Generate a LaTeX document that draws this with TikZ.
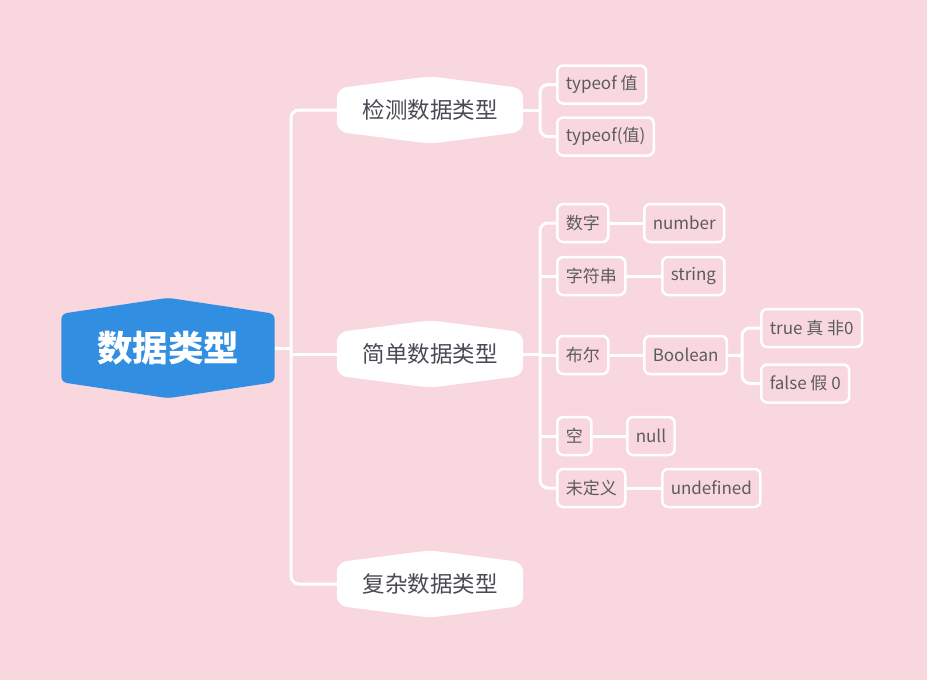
\documentclass[tikz,border=0pt]{standalone}
\usepackage{fontspec}
\setmainfont{Noto Sans CJK SC}
\usetikzlibrary{backgrounds}
\definecolor{bgpink}{HTML}{F8D7DF}
\definecolor{rootblue}{HTML}{318EE0}
\definecolor{maintext}{HTML}{4A4A55}
\definecolor{leaftext}{HTML}{5C5C5C}

\begin{document}
\begin{tikzpicture}[x=1pt,y=-1pt]
\tikzstyle{root} = [text=white, font=\fontsize{35.5}{40}\selectfont\bfseries, minimum width=213, minimum height=100, inner sep=0]
\tikzstyle{branch} = [text=maintext, font=\fontsize{22.5}{26}\selectfont, minimum width=186, minimum height=67, inner sep=0]
\tikzstyle{leaf} = [draw=white, line width=2.5pt, rounded corners=6pt, text=leaftext, font=\fontsize{17}{20}\selectfont, minimum height=38, inner xsep=8.5, anchor=west]
\tikzstyle{link} = [draw=white, line width=3pt, rounded corners=8pt]
\useasboundingbox (0,0) rectangle (927,680);

\node [root] (root) at (168,348) {数据类型};
\node [branch] (detect) at (430,110) {检测数据类型};
\node [branch] (simple) at (430,354) {简单数据类型};
\node [branch] (complex) at (430,584) {复杂数据类型};

\node [leaf] (typeA) at (556,84.5) {typeof 值};
\node [leaf] (typeB) at (556,136.5) {typeof(值)};

\node [leaf] (num) at (556,223) {数字};
\node [leaf] (numval) at (643,223) {number};
\node [leaf] (str) at (556,276) {字符串};
\node [leaf] (strval) at (661,276) {string};
\node [leaf] (bool) at (556,355) {布尔};
\node [leaf] (boolval) at (643,355) {Boolean};
\node [leaf] (true) at (760,328) {true 真 非0};
\node [leaf] (false) at (760,383.5) {false 假 0};
\node [leaf] (nul) at (556,436) {空};
\node [leaf] (nulval) at (626,436) {null};
\node [leaf] (undef) at (556,488) {未定义};
\node [leaf] (undefval) at (661,488) {undefined};

% trunk and forks
\coordinate (trunk) at (291,348);
\coordinate (dfork) at (540,110);
\coordinate (sfork) at (540,354);
\coordinate (bfork) at (742,355);

\draw [link] (root.east) -- (trunk);
\draw [link] (detect.west) -| (trunk) |- (complex.west);
\draw [link] (trunk |- simple.west) -- (simple.west);

\draw [link] (detect.east) -- (dfork);
\draw [link] (typeA.west) -| (dfork) |- (typeB.west);

\draw [link] (simple.east) -- (sfork);
\draw [link] (num.west) -| (sfork) |- (undef.west);
\foreach \n in {str,bool,nul}
  \draw [link] (sfork |- \n.west) -- (\n.west);
\foreach \a/\b in {num/numval,str/strval,bool/boolval,nul/nulval,undef/undefval}
  \draw [link] (\a.east) -- (\b.west);

\draw [link] (boolval.east) -- (bfork);
\draw [link] (true.west) -| (bfork) |- (false.west);

\begin{pgfonlayer}{background}
\fill [bgpink] (0,0) rectangle (927,680);
\fill [rootblue, rounded corners=5pt] ([yshift=-16pt]root.north west) -- (root.north) -- ([yshift=-16pt]root.north east)
  -- ([yshift=16pt]root.south east) -- (root.south) -- ([yshift=16pt]root.south west) -- cycle;
\foreach \n in {detect,simple,complex}
  \fill [white, rounded corners=10pt] ([yshift=-12pt]\n.north west) -- (\n.north) -- ([yshift=-12pt]\n.north east)
    -- ([yshift=12pt]\n.south east) -- (\n.south) -- ([yshift=12pt]\n.south west) -- cycle;
\end{pgfonlayer}
\end{tikzpicture}
\end{document}
